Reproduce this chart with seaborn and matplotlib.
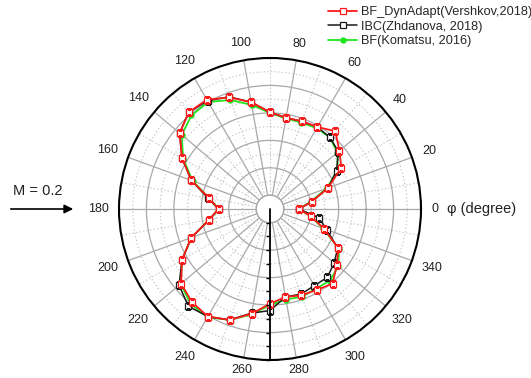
import numpy as np
import matplotlib
matplotlib.use("Agg")
import matplotlib.pyplot as plt
import seaborn as sns
from matplotlib.ticker import FixedLocator

# Directivity data (angle in degrees, radial amplitude)
angles_deg = list(range(0, 360, 10))
r_dynadapt = [11, 21, 35, 50, 56, 64, 59, 58, 57.5, 60.5,
              69, 76.5, 82, 82, 76, 64, 51, 35, 27.5, 35,
              51, 64, 74.5, 78.5, 80.5, 76, 67.5, 59, 55, 57,
              58, 61, 53.5, 47.5, 32, 20]
r_ibc = [11, 21, 35, 46, 55, 58, 59, 58, 57.5, 60.5,
         69, 77, 81, 82, 76, 64, 51, 36, 27.5, 35,
         51, 64, 76.5, 82.5, 80.5, 76, 67, 64, 55, 56,
         54.5, 55, 51, 47, 34, 26]
r_komatsu = [11, 20, 34, 47, 54, 58, 58, 57, 57, 60,
             67, 74.5, 80, 79, 74, 63, 50, 35, 27, 35,
             51, 64, 75, 80, 81, 76, 68, 60, 57, 58,
             57, 58, 55, 48, 31, 20]

series_labels = ["BF_DynAdapt(Vershkov,2018)", "IBC(Zhdanova, 2018)", "BF(Komatsu, 2016)"]
label_angles = list(range(0, 360, 20))
angle_labels = [str(a) for a in label_angles]

sns.set_theme(style="white")
plt.rcParams["font.family"] = ["Liberation Sans", "DejaVu Sans"]

W, H = 531, 378
cx, cy, R = 270, 209, 151
fig = plt.figure(figsize=(W / 100, H / 100), dpi=100)
ax = fig.add_axes([(cx - R) / W, (H - cy - R) / H, 2 * R / W, 2 * R / H],
                  projection="polar")
ax.set_rorigin(-10)
ax.set_ylim(0, 100)


def closed(values):
    th = np.deg2rad(angles_deg + [360])
    return th, list(values) + [values[0]]


# Curves (green underneath, red on top)
th, rv = closed(r_komatsu)
sns.lineplot(x=th, y=rv, ax=ax, sort=False, estimator=None, color="#1ee61e",
             lw=1.3, marker="o", ms=3.8, mec="#1ee61e", mfc="#1ee61e",
             label=series_labels[2], zorder=3)
th, rv = closed(r_ibc)
sns.lineplot(x=th, y=rv, ax=ax, sort=False, estimator=None, color="#1a1a1a",
             lw=1.1, marker="s", ms=4.2, mec="#1a1a1a", mfc="white", mew=0.9,
             label=series_labels[1], zorder=4)
th, rv = closed(r_dynadapt)
sns.lineplot(x=th, y=rv, ax=ax, sort=False, estimator=None, color="#ff1a1a",
             lw=1.3, marker="s", ms=4.2, mec="#ff1a1a", mfc="white", mew=0.9,
             label=series_labels[0], zorder=5)
ax.set_xlabel("")
ax.set_ylabel("")

# Angular grid
ax.set_xticks(np.deg2rad(label_angles))
ax.set_xticklabels([])
ax.xaxis.set_minor_locator(FixedLocator(np.deg2rad(range(10, 360, 20))))
ax.set_yticks([0, 20, 40, 60, 80])
ax.yaxis.set_minor_locator(FixedLocator([10, 30, 50, 70, 90]))
ax.set_yticklabels([])
ax.grid(False)
ax.xaxis.grid(True, which="major", color="#a8a8a8", lw=0.9, ls="-")
ax.xaxis.grid(True, which="minor", color="#c4c4c4", lw=0.8, ls=(0, (1.2, 2)))
ax.yaxis.grid(True, which="major", color="#a8a8a8", lw=0.9, ls="-")
ax.yaxis.grid(True, which="minor", color="#c4c4c4", lw=0.8, ls=(0, (1.2, 2)))
ax.tick_params(axis="x", which="major", direction="inout", length=6, width=1, color="black")
ax.tick_params(axis="x", which="minor", direction="out", length=3.5, width=1, color="black")
ax.tick_params(axis="y", which="both", length=0)
ax.spines["polar"].set_color("black")
ax.spines["polar"].set_linewidth(1.5)
ax.spines["inner"].set_color("#a8a8a8")
ax.spines["inner"].set_linewidth(0.9)
ax.set_facecolor("white")

# Angle labels outside the rim
for deg, lab in zip(label_angles, angle_labels):
    t = np.deg2rad(deg)
    c, s = np.cos(t), np.sin(t)
    w = 6.3 * len(lab)
    gap = 11 if s > -0.9 else 6
    d = gap + 0.5 * w * abs(c) + 4.5 * abs(s)
    ax.annotate(lab, xy=(t, 100), xytext=(d * c * 0.72, d * s * 0.72),
                textcoords="offset points", ha="center", va="center",
                fontsize=9, color="#222222", annotation_clip=False)

fig.text(447 / W, 1 - 209 / H, "φ (degree)", fontsize=10.5, color="#222222",
         ha="left", va="center")

# Radial axis along 270 degrees
ax.plot([0.5, 0.5], [0.5, 0.0], transform=ax.transAxes, color="black",
        lw=1.3, clip_on=False, zorder=6)
rt = np.arange(0, 101, 10)
ax.plot(np.full(len(rt), 1.5 * np.pi), rt, ls="none", marker=0, ms=3,
        mew=1, color="black", clip_on=False, zorder=6)

# Flow direction annotation
fig.text(38 / W, 1 - 191 / H, "M = 0.2", fontsize=10.5, color="#222222",
         ha="center", va="center")
ax.annotate("", xy=(76, H - 209), xycoords="figure pixels",
            xytext=(8, H - 209), textcoords="figure pixels",
            arrowprops=dict(arrowstyle="-|>", color="black", lw=1.2,
                            mutation_scale=13))

# Legend in the top right corner
handles, labels = ax.get_legend_handles_labels()
order = [labels.index(l) for l in series_labels]
ax.get_legend().remove()
fig.legend([handles[i] for i in order], [labels[i] for i in order],
           loc="upper left", bbox_to_anchor=(328 / W, 1 - 6 / H),
           frameon=False, fontsize=9.2, handlelength=2.3, handletextpad=0.25,
           labelspacing=0.2, borderaxespad=0, borderpad=0, numpoints=1)

fig.savefig("out.png", dpi=100, facecolor="white")
